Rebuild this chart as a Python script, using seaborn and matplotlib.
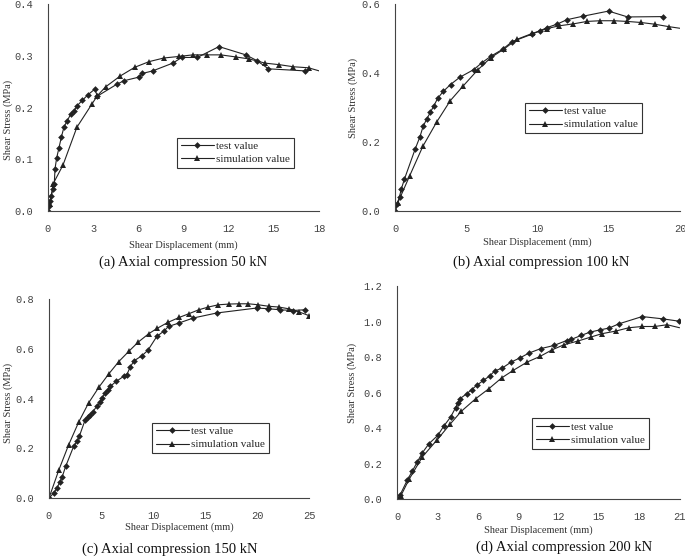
import matplotlib
matplotlib.use('Agg')
import matplotlib.pyplot as plt
import seaborn as sns

# Dados (deslocamento em mm, tensão em MPa)
# (a) 50 kN
a_test_x = [0, 0.07, 0.13, 0.22, 0.33, 0.42, 0.47, 0.58, 0.73, 0.89, 1.06, 1.28, 1.51, 1.73, 1.95,
            2.28, 2.66, 3.12, 3.27, 4.56, 5.05, 6.04, 6.26, 6.95, 8.28, 8.88, 9.91, 11.35, 13.13,
            13.86, 14.63, 17.07]
a_test_y = [0, 0.009, 0.019, 0.029, 0.043, 0.053, 0.082, 0.103, 0.122, 0.143, 0.162, 0.175, 0.187,
            0.194, 0.204, 0.214, 0.225, 0.236, 0.222, 0.245, 0.252, 0.259, 0.266, 0.271, 0.286,
            0.297, 0.297, 0.318, 0.302, 0.291, 0.275, 0.271]
a_sim_x = [0, 0.13, 0.35, 1.0, 1.92, 2.92, 3.28, 3.82, 4.79, 5.76, 6.72, 7.70, 8.72, 9.61, 10.54,
           11.47, 12.46, 13.37, 14.41, 15.36, 16.29, 17.29, 18.0]
a_sim_y = [0, 0.014, 0.053, 0.089, 0.162, 0.207, 0.223, 0.240, 0.261, 0.278, 0.289, 0.296, 0.299,
           0.302, 0.302, 0.302, 0.298, 0.294, 0.286, 0.283, 0.279, 0.277, 0.271]

# (b) 100 kN
b_test_x = [0, 0.14, 0.30, 0.42, 0.64, 1.40, 1.73, 1.96, 2.20, 2.46, 2.72, 2.98, 3.37, 3.88, 4.53,
            5.50, 6.08, 6.71, 7.53, 8.19, 9.59, 10.18, 10.64, 11.35, 12.05, 13.16, 14.97, 16.31,
            18.77]
b_test_y = [0, 0.020, 0.042, 0.063, 0.092, 0.180, 0.215, 0.246, 0.266, 0.286, 0.306, 0.327, 0.347,
            0.367, 0.388, 0.410, 0.430, 0.449, 0.469, 0.491, 0.513, 0.523, 0.532, 0.542, 0.555,
            0.565, 0.580, 0.563, 0.564]
b_sim_x = [0, 0.16, 1.01, 1.94, 2.92, 3.86, 4.75, 5.78, 6.71, 7.60, 8.54, 9.60, 10.64, 11.46, 12.51,
           13.45, 14.39, 15.37, 16.28, 17.22, 18.2, 19.18, 20.0]
b_sim_y = [0, 0.022, 0.102, 0.188, 0.259, 0.320, 0.362, 0.409, 0.445, 0.469, 0.498, 0.515, 0.529,
           0.537, 0.543, 0.550, 0.552, 0.552, 0.550, 0.547, 0.542, 0.535, 0.530]

# (c) 150 kN
c_test_x = [0, 0.45, 0.77, 1.02, 1.25, 1.60, 2.37, 2.69, 2.91, 3.48, 3.71, 3.96, 4.22, 4.60, 4.92,
            5.08, 5.40, 5.63, 5.88, 6.46, 7.16, 7.48, 7.80, 8.18, 8.92, 9.50, 10.36, 11.0, 11.48,
            12.44, 13.87, 16.11, 19.95, 21.07, 22.19, 23.4, 24.58]
c_test_y = [0, 0.020, 0.040, 0.063, 0.083, 0.127, 0.208, 0.228, 0.248, 0.315, 0.326, 0.335, 0.348,
            0.369, 0.385, 0.402, 0.422, 0.436, 0.449, 0.469, 0.489, 0.496, 0.527, 0.552, 0.572,
            0.594, 0.650, 0.670, 0.690, 0.703, 0.724, 0.744, 0.764, 0.761, 0.757, 0.754, 0.757]
c_sim_x = [0, 0.93, 1.89, 2.85, 3.80, 4.80, 5.72, 6.71, 7.67, 8.57, 9.59, 10.42, 11.41, 12.50, 13.43,
           14.39, 15.31, 16.27, 17.33, 18.25, 19.15, 20.11, 21.10, 22.06, 23.02, 24.04, 25.0]
c_sim_y = [0, 0.111, 0.214, 0.305, 0.382, 0.446, 0.498, 0.549, 0.590, 0.627, 0.661, 0.683, 0.706,
           0.726, 0.741, 0.757, 0.768, 0.777, 0.780, 0.781, 0.781, 0.777, 0.771, 0.768, 0.761,
           0.748, 0.733]

# (d) 200 kN
d_test_x = [0, 0.20, 0.74, 1.12, 1.49, 1.86, 2.36, 3.02, 3.47, 3.97, 4.34, 4.51, 4.66, 5.16, 5.53,
            5.90, 6.40, 6.87, 7.24, 7.81, 8.48, 9.10, 9.79, 10.66, 11.65, 12.60, 12.94, 13.69,
            14.33, 15.08, 15.75, 16.49, 18.22, 19.76, 20.95]
d_test_y = [0, 0.023, 0.107, 0.159, 0.210, 0.261, 0.313, 0.360, 0.413, 0.463, 0.516, 0.542, 0.566,
            0.594, 0.617, 0.641, 0.669, 0.694, 0.722, 0.739, 0.773, 0.795, 0.823, 0.848, 0.866,
            0.894, 0.900, 0.923, 0.941, 0.954, 0.964, 0.988, 1.029, 1.016, 1.003]
d_sim_x = [0, 0.25, 0.87, 1.86, 2.98, 3.92, 4.76, 5.83, 6.82, 7.76, 8.63, 9.67, 10.61, 11.53, 12.40,
           13.44, 14.38, 15.20, 16.24, 17.23, 18.22, 19.16, 20.08, 21.0]
d_sim_y = [0, 0.017, 0.111, 0.238, 0.336, 0.422, 0.495, 0.566, 0.623, 0.683, 0.726, 0.773, 0.804,
           0.842, 0.870, 0.891, 0.913, 0.932, 0.947, 0.966, 0.973, 0.973, 0.983, 0.966]

legendas = ['test value', 'simulation value']
titulos = ['(a) Axial compression 50 kN', '(b) Axial compression 100 kN',
           '(c) Axial compression 150 kN', '(d) Axial compression 200 kN']

sns.set_style('white')
fig = plt.figure(figsize=(6.85, 5.59), dpi=100)

# posição de cada painel, limites, ticks, posição dos rótulos e da legenda
paineis = [
    dict(pos=[0.070, 0.6225, 0.396, 0.370], xlim=18, xstep=3, ylim=0.4, ystep=0.1,
         test=(a_test_x, a_test_y), sim=(a_sim_x, a_sim_y), sim_end=True,
         ylab=(-0.129, 0.44), xlab=(0.5, -0.14), leg=(0.454, 0.382),
         cap=(183 / 685, 1 - 262 / 559)),
    dict(pos=[0.577, 0.6225, 0.416, 0.370], xlim=20, xstep=5, ylim=0.6, ystep=0.2,
         test=(b_test_x, b_test_y), sim=(b_sim_x, b_sim_y), sim_end=True,
         ylab=(-0.13, 0.546), xlab=(0.5, -0.126), leg=(0.435, 0.551),
         cap=(541 / 685, 1 - 262 / 559)),
    dict(pos=[0.0715, 0.109, 0.380, 0.356], xlim=25, xstep=5, ylim=0.8, ystep=0.2,
         test=(c_test_x, c_test_y), sim=(c_sim_x, c_sim_y), sim_end=False,
         ylab=(-0.138, 0.477), xlab=(0.5, -0.12), leg=(0.373, 0.407),
         cap=(170 / 685, 1 - 549 / 559)),
    dict(pos=[0.580, 0.107, 0.412, 0.381], xlim=21, xstep=3, ylim=1.2, ystep=0.2,
         test=(d_test_x, d_test_y), sim=(d_sim_x, d_sim_y), sim_end=True,
         ylab=(-0.142, 0.545), xlab=(0.5, -0.122), leg=(0.457, 0.408),
         cap=(564 / 685, 1 - 547 / 559)),
]

serif = 'Liberation Serif'
mono = 'Liberation Mono'

for p, titulo in zip(paineis, titulos):
    ax = fig.add_axes(p['pos'])
    tx, ty = p['test']
    sx, sy = p['sim']
    sns.lineplot(x=tx, y=ty, ax=ax, sort=False, estimator=None, color='#222222', lw=0.8,
                 marker='D', markersize=3.4, markeredgewidth=0, label=legendas[0])
    marcas = slice(0, len(sx) - 1) if p['sim_end'] else None
    sns.lineplot(x=sx, y=sy, ax=ax, sort=False, estimator=None, color='#222222', lw=0.8,
                 marker='^', markersize=4.8, markeredgewidth=0, markevery=marcas,
                 label=legendas[1])

    ax.set_xlim(0, p['xlim'])
    ax.set_ylim(0, p['ylim'])
    xt = list(range(0, p['xlim'] + 1, p['xstep']))
    ax.set_xticks(xt)
    n = int(round(p['ylim'] / p['ystep']))
    yt = [i * p['ystep'] for i in range(n + 1)]
    ax.set_yticks(yt)
    ax.set_xticklabels([str(v) for v in xt], fontfamily=mono, fontsize=7.5, color='#444444')
    ax.set_yticklabels(['%.1f' % v for v in yt], fontfamily=mono, fontsize=7.5, color='#444444')
    ax.tick_params(direction='out', length=3, width=0.6, color='#444444')
    ax.tick_params(axis='x', pad=6)
    ax.tick_params(axis='y', pad=8)

    sns.despine(ax=ax)
    for s in ['left', 'bottom']:
        ax.spines[s].set_linewidth(0.8)
        ax.spines[s].set_color('#444444')

    ax.set_xlabel('Shear Displacement (mm)', fontfamily=serif, fontsize=7.5, color='#333333')
    ax.set_ylabel('Shear Stress (MPa)', fontfamily=serif, fontsize=7.5, color='#333333')
    ax.xaxis.set_label_coords(*p['xlab'])
    ax.yaxis.set_label_coords(*p['ylab'])

    ax.legend(loc='upper left', bbox_to_anchor=p['leg'], prop={'family': serif, 'size': 8},
              frameon=True, fancybox=False, edgecolor='#333333', framealpha=1,
              handlelength=3.0, handletextpad=0.2, borderpad=0.35, labelspacing=0.3)
    ax.get_legend().get_frame().set_linewidth(0.8)

    fig.text(p['cap'][0], p['cap'][1], titulo, ha='center', va='center',
             fontfamily=serif, fontsize=10.5, color='#111111')

plt.savefig('out.png', dpi=100)
